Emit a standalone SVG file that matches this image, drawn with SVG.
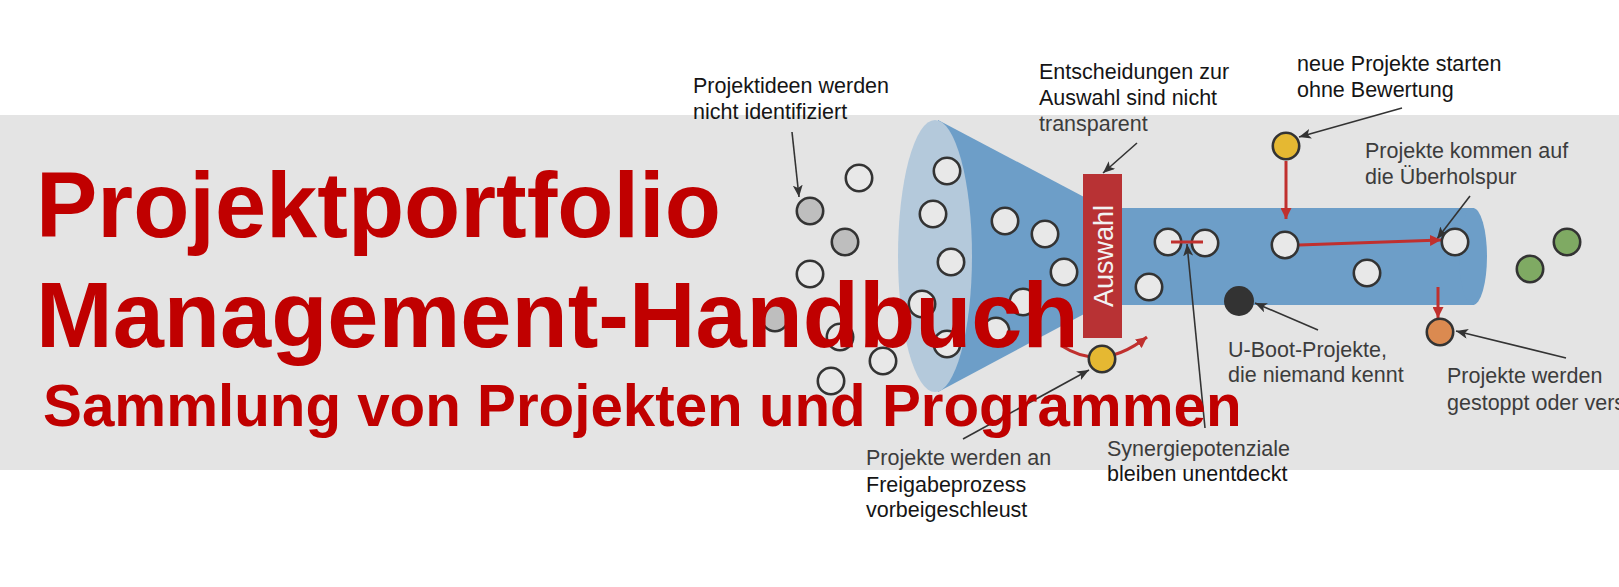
<svg xmlns="http://www.w3.org/2000/svg" width="1619" height="587" viewBox="0 0 1619 587">
<defs>
<style>
.lbl{font-family:"Liberation Sans",Arial,sans-serif;font-size:21.5px}
.in{fill:#3c3c3c}
.out{fill:#151515}
.title{font-family:"Liberation Sans",Arial,sans-serif;font-weight:bold;fill:#C00000}
.c{stroke:#333;stroke-width:2.6}
.w{fill:#E8E8E8}
.g{fill:#BEBEBE}
.y{fill:#E5B832}
.gr{fill:#7FAA63}
.o{fill:#DB8A50}
.k{fill:#333}
.blk{stroke:#333;stroke-width:1.6;fill:none;marker-end:url(#ab)}
.red{stroke:#C0302E;stroke-width:3;fill:none;marker-end:url(#ar)}
</style>
<marker id="ab" markerUnits="userSpaceOnUse" markerWidth="12" markerHeight="10" viewBox="0 0 12 10" refX="12" refY="5" orient="auto">
<path d="M0,0 L12,5 L0,10 L3,5 z" fill="#333"/>
</marker>
<marker id="ar" markerUnits="userSpaceOnUse" markerWidth="11" markerHeight="11" viewBox="0 0 11 11" refX="11" refY="5.5" orient="auto">
<path d="M0,0 L11,5.5 L0,11 z" fill="#C0302E"/>
</marker>
</defs>
<rect x="0" y="0" width="1619" height="587" fill="#fff"/>
<rect id="band" x="0" y="115" width="1619" height="355" fill="#E4E4E4"/>
<g id="funnel">
<polygon points="938,120 1086,198 1086,313 938,392" fill="#6D9EC8"/>
<ellipse cx="935" cy="256" rx="37" ry="136" fill="#B4C9DB"/>
<rect x="1086" y="208" width="388" height="97" fill="#6D9EC8"/>
<ellipse cx="1473" cy="256.5" rx="14" ry="48.5" fill="#6D9EC8"/>
</g>
<g id="auswahl">
<rect x="1083" y="174" width="39" height="164" fill="#B83234"/>
<text class="lbl" x="1113" y="256" transform="rotate(-90 1113 256)" text-anchor="middle" style="font-size:27px;fill:#F2F2F2">Auswahl</text>
</g>
<g id="connectors">
<line class="blk" x1="792" y1="132" x2="799" y2="197"/>
<line class="blk" x1="1137" y1="143" x2="1103" y2="173"/>
<line class="blk" x1="1402" y1="108" x2="1299" y2="137"/>
<line class="blk" x1="1470" y1="196" x2="1437" y2="239"/>
<line class="blk" x1="1318" y1="330" x2="1255" y2="303"/>
<line class="blk" x1="1566" y1="358" x2="1456" y2="331"/>
<line class="blk" x1="963" y1="439" x2="1089" y2="370"/>
<line class="blk" x1="1205" y1="428" x2="1187" y2="244"/>
<line class="red" x1="1286" y1="161" x2="1286" y2="219"/>
<line class="red" x1="1299" y1="245" x2="1441" y2="240"/>
<line class="red" x1="1438" y1="287" x2="1438" y2="318"/>
<path class="red" d="M1062,346 Q1102,372 1147,337"/>
</g>
<g id="ideas">
<circle class="c w" cx="859" cy="178" r="13.2"/>
<circle class="c g" cx="810" cy="211" r="13.2"/>
<circle class="c g" cx="845" cy="242" r="13.2"/>
<circle class="c w" cx="810" cy="274" r="13.2"/>
<circle class="c g" cx="775" cy="318" r="13.2"/>
<circle class="c w" cx="840" cy="337" r="13.2"/>
<circle class="c w" cx="883" cy="361" r="13.2"/>
<circle class="c w" cx="831" cy="381" r="13.2"/>
</g>
<g id="funnel-projects">
<circle class="c w" cx="947" cy="171" r="13.2"/>
<circle class="c w" cx="933" cy="214" r="13.2"/>
<circle class="c w" cx="951" cy="262" r="13.2"/>
<circle class="c w" cx="922" cy="304" r="13.2"/>
<circle class="c w" cx="947" cy="344" r="13.2"/>
<circle class="c w" cx="1005" cy="221" r="13.2"/>
<circle class="c w" cx="1045" cy="234" r="13.2"/>
<circle class="c w" cx="1064" cy="272" r="13.2"/>
<circle class="c w" cx="1023" cy="302" r="13.2"/>
<circle class="c w" cx="996" cy="331" r="13.2"/>
</g>
<g id="tube-projects">
<circle class="c w" cx="1168" cy="242" r="13.2"/>
<circle class="c w" cx="1205" cy="243" r="13.2"/>
<circle class="c w" cx="1149" cy="287" r="13.2"/>
<circle class="c w" cx="1285" cy="245" r="13.2"/>
<circle class="c w" cx="1367" cy="273" r="13.2"/>
<circle class="c w" cx="1455" cy="242" r="13.2"/>
<circle class="k" cx="1239" cy="301" r="15"/>
</g>
<g id="special-projects">
<circle class="c y" cx="1286" cy="146" r="13.2"/>
<circle class="c y" cx="1102" cy="359" r="13.2"/>
<circle class="c o" cx="1440" cy="332" r="13.2"/>
<circle class="c gr" cx="1567" cy="242" r="13.2"/>
<circle class="c gr" cx="1530" cy="269" r="13.2"/>
</g>
<g id="synergy-bar">
<line x1="1171" y1="242" x2="1203" y2="242" stroke="#C0302E" stroke-width="3"/>
</g>
<g id="labels">
<text class="lbl out" x="693" y="93">Projektideen werden</text>
<text class="lbl out" x="693" y="119">nicht identifiziert</text>
<text class="lbl out" x="1039" y="79">Entscheidungen zur</text>
<text class="lbl out" x="1039" y="105">Auswahl sind nicht</text>
<text class="lbl in" x="1039" y="131">transparent</text>
<text class="lbl out" x="1297" y="71">neue Projekte starten</text>
<text class="lbl out" x="1297" y="97">ohne Bewertung</text>
<text class="lbl in" x="1365" y="158">Projekte kommen auf</text>
<text class="lbl in" x="1365" y="184">die Überholspur</text>
<text class="lbl in" x="1228" y="357">U-Boot-Projekte,</text>
<text class="lbl in" x="1228" y="382">die niemand kennt</text>
<text class="lbl in" x="1447" y="383">Projekte werden</text>
<text class="lbl in" x="1447" y="410">gestoppt oder vers</text>
<text class="lbl in" x="866" y="465">Projekte werden an</text>
<text class="lbl out" x="866" y="492">Freigabeprozess</text>
<text class="lbl out" x="866" y="517">vorbeigeschleust</text>
<text class="lbl in" x="1107" y="456">Synergiepotenziale</text>
<text class="lbl out" x="1107" y="481">bleiben unentdeckt</text>
</g>
<g id="title">
<text class="title" x="36" y="237" style="font-size:92px">Projektportfolio</text>
<text class="title" x="36" y="347" style="font-size:92px">Management-Handbuch</text>
<text class="title" x="43" y="426" style="font-size:58.3px">Sammlung von Projekten und Programmen</text>
</g>
</svg>
